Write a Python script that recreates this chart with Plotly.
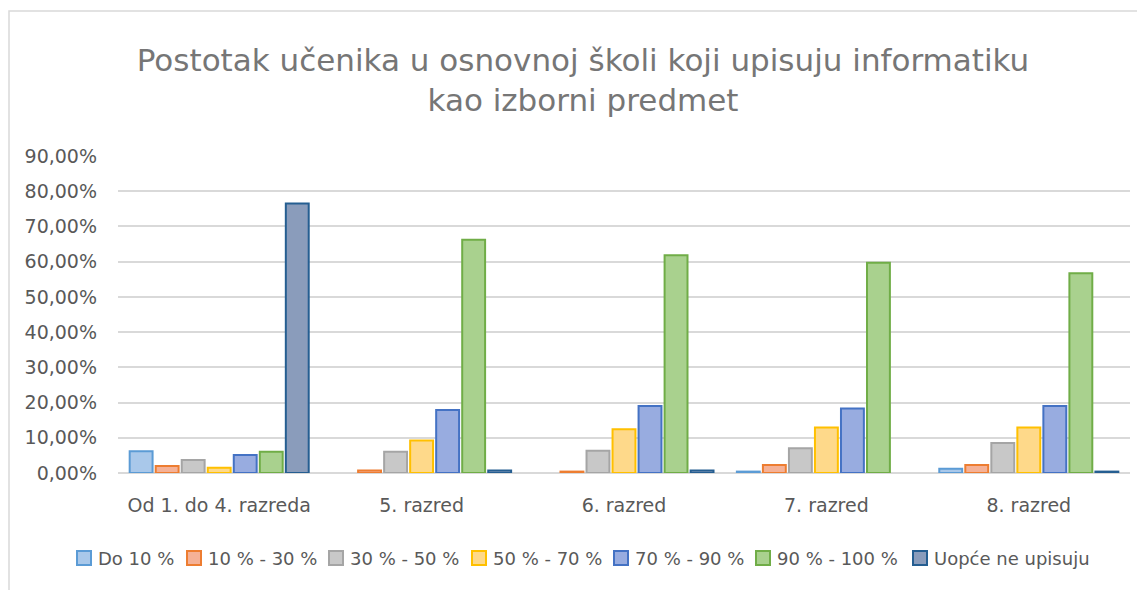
import plotly.graph_objects as go

categories = ["Od 1. do 4. razreda", "5. razred", "6. razred", "7. razred", "8. razred"]
series_names = ["Do 10 %", "10 % - 30 %", "30 % - 50 %", "50 % - 70 %", "70 % - 90 %", "90 % - 100 %", "Uopće ne upisuju"]

do10 = [0.062, 0.0, 0.0, 0.004, 0.012]
s10_30 = [0.020, 0.007, 0.004, 0.023, 0.023]
s30_50 = [0.037, 0.060, 0.063, 0.070, 0.085]
s50_70 = [0.015, 0.092, 0.124, 0.129, 0.129]
s70_90 = [0.051, 0.179, 0.190, 0.183, 0.190]
s90_100 = [0.060, 0.662, 0.618, 0.597, 0.567]
uopce = [0.765, 0.007, 0.007, 0.0, 0.004]

fills = ["#a9c8ea", "#f5b196", "#c8c8c8", "#fed98a", "#98ace0", "#a9d18e", "#8a9cbb"]
lines = ["#5b9bd5", "#ed7d31", "#a5a5a5", "#ffc000", "#4472c4", "#70ad47", "#255e91"]

series_values = [do10, s10_30, s30_50, s50_70, s70_90, s90_100, uopce]

# legend layout (left edge of each legend swatch, in page pixels)
legend_swatch_left = [77, 187, 329, 472, 614, 756, 913]

FONT = "DejaVu Sans"
GREY = "#595959"

fig = go.Figure()
for name, vals, fc, lc in zip(series_names, series_values, fills, lines):
    fig.add_trace(go.Bar(
        x=categories, y=vals, name=name, showlegend=False,
        marker=dict(color=fc, line=dict(color=lc, width=[2 if v > 0 else 0 for v in vals])),
    ))

# page has an 8px body margin; figure sized to fit the 1145x590 window
OFF = 8
W, H = 1137, 582
L, R, T, B = 110, 15, 148, 117
pw, ph = W - L - R, H - T - B


def px_x(p):  # page px -> paper x
    return (p - OFF - L) / pw


def px_y(p):  # page px -> paper y
    return (H - B - (p - OFF)) / ph


shapes = [dict(type="rect", xref="paper", yref="paper",
               x0=px_x(9), x1=px_x(1160), y0=px_y(610), y1=px_y(11),
               line=dict(color="#d9d9d9", width=1.5), fillcolor="rgba(0,0,0,0)", layer="below")]
annotations = []
LEG_Y, SW = 558, 14
for name, fc, lc, sx in zip(series_names, fills, lines, legend_swatch_left):
    shapes.append(dict(type="rect", xref="paper", yref="paper",
                       x0=px_x(sx), x1=px_x(sx + SW),
                       y0=px_y(LEG_Y + SW / 2), y1=px_y(LEG_Y - SW / 2),
                       line=dict(color=lc, width=2), fillcolor=fc))
    annotations.append(dict(xref="paper", yref="paper", x=px_x(sx + SW + 5), y=px_y(LEG_Y),
                            xanchor="left", yanchor="middle", showarrow=False, text=name,
                            font=dict(family=FONT, size=18, color=GREY)))

fig.update_layout(
    width=W, height=H,
    margin=dict(l=L, r=R, t=T, b=B, pad=0),
    paper_bgcolor="white", plot_bgcolor="white",
    separators=",.",
    barmode="group", bargap=0.1, bargroupgap=0.12,
    font=dict(family=FONT, color=GREY, size=17),
    showlegend=False,
    title=dict(
        text="Postotak učenika u osnovnoj školi koji upisuju informatiku<br>kao izborni predmet",
        x=575 / W, xanchor="center", xref="container",
        y=1 - 63 / H, yanchor="middle", yref="container",
        font=dict(family=FONT, size=31, color="#767676"),
    ),
    xaxis=dict(showgrid=False, showline=False, ticks="", ticklabelstandoff=19,
               tickfont=dict(size=19, color=GREY)),
    yaxis=dict(range=[0, 0.9], dtick=0.1, tickformat=".2%", showgrid=True,
               gridcolor="#d9d9d9", gridwidth=1.5, zeroline=True, zerolinecolor="#d9d9d9",
               zerolinewidth=2, showline=False, ticks="", ticklabelstandoff=20,
               tickfont=dict(size=19, color=GREY)),
    shapes=shapes,
    annotations=annotations,
)

fig.write_html("out.html")
